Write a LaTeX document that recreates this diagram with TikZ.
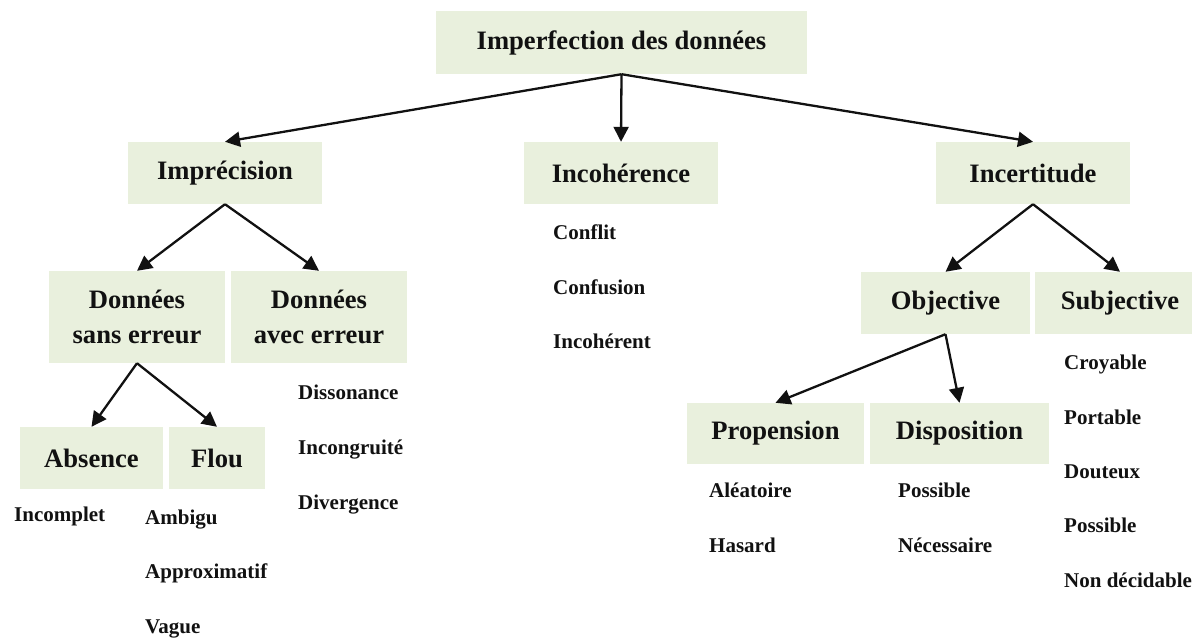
\documentclass[tikz,border=0pt]{standalone}
\usepackage{fontspec}
\setmainfont{Liberation Serif}
\usepackage{xcolor}
\usepackage{tikz}
\usetikzlibrary{arrows.meta}
\definecolor{boxfill}{HTML}{E9F0DD}
\definecolor{ink}{HTML}{111111}
\tikzset{
  catbox/.style={fill=boxfill, inner sep=0pt, align=center, text=ink,
    font=\fontsize{26.6}{35}\selectfont\bfseries},
  item/.style={anchor=west, inner sep=0pt, text=ink, text height=0.7em, text depth=0.2em,
    font=\fontsize{21}{25}\selectfont\bfseries},
  link/.style={-{Triangle[length=15pt,width=15pt]}, line width=2.3pt, draw=ink}
}

\begin{document}
\begin{tikzpicture}[x=1pt,y=-1pt]
  \useasboundingbox (0,0) rectangle (1192,641);
  \clip (0,0) rectangle (1192,641);

  % Root
  \node[catbox, minimum width=371pt, minimum height=63pt] (root) at (621.5,42.5) {Imperfection des données};

  % First level
  \node[catbox, minimum width=194pt, minimum height=62pt] (imprec) at (225,173) {Imprécision};
  \node[catbox, minimum width=194pt, minimum height=62pt] (incoh) at (621,173) {Incohérence};
  \node[catbox, minimum width=194pt, minimum height=62pt] (incert) at (1033,173) {Incertitude};
  \draw[link] (root.south) -- (imprec.north);
  \draw[link] (root.south) -- (incoh.north);
  \draw[link] (root.south) -- (incert.north);

  % Imprecision branch
  \node[catbox, minimum width=176pt, minimum height=92pt] (sanserr) at (137,317) {Données\\sans erreur};
  \node[catbox, minimum width=176pt, minimum height=92pt] (avecerr) at (319,317) {Données\\avec erreur};
  \draw[link] (imprec.south) -- (sanserr.north);
  \draw[link] (imprec.south) -- (avecerr.north);

  \node[catbox, minimum width=143pt, minimum height=62pt] (absence) at (91.5,458) {Absence};
  \node[catbox, minimum width=96pt, minimum height=62pt] (flou) at (217,458) {Flou};
  \draw[link] (sanserr.south) -- (absence.north);
  \draw[link] (sanserr.south) -- (flou.north);

  \node[item] (incomplet) at (14,519) {Incomplet};
  \node[item] (ambigu) at (145,522) {Ambigu};
  \node[item] (approx) at (145,576) {Approximatif};
  \node[item] (vague) at (145,631) {Vague};

  \node[item] (dissonance) at (298,397) {Dissonance};
  \node[item] (incongru) at (298,452) {Incongruité};
  \node[item] (divergence) at (298,507) {Divergence};

  % Incoherence branch
  \node[item] (conflit) at (553,237) {Conflit};
  \node[item] (confusion) at (553,292) {Confusion};
  \node[item] (incoherent) at (553,346) {Incohérent};

  % Incertitude branch
  \node[catbox, minimum width=169pt, minimum height=62pt] (objective) at (945.5,303) {Objective};
  \node[catbox, minimum width=170pt, minimum height=62pt] (subjective) at (1120,303) {Subjective};
  \draw[link] (incert.south) -- (objective.north);
  \draw[link] (incert.south) -- (subjective.north);

  \node[catbox, minimum width=177pt, minimum height=61pt] (propension) at (775.5,433.5) {Propension};
  \node[catbox, minimum width=179pt, minimum height=61pt] (disposition) at (959.5,433.5) {Disposition};
  \draw[link] (objective.south) -- (propension.north);
  \draw[link] (objective.south) -- (disposition.north);

  \node[item] (aleatoire) at (709,495) {Aléatoire};
  \node[item] (hasard) at (709,550) {Hasard};
  \node[item] (possdisp) at (898,495) {Possible};
  \node[item] (necessaire) at (898,550) {Nécessaire};

  \node[item] (croyable) at (1064,367) {Croyable};
  \node[item] (portable) at (1064,422) {Portable};
  \node[item] (douteux) at (1064,476) {Douteux};
  \node[item] (posssubj) at (1064,530) {Possible};
  \node[item] (nondecid) at (1064,585) {Non décidable};
\end{tikzpicture}
\end{document}
